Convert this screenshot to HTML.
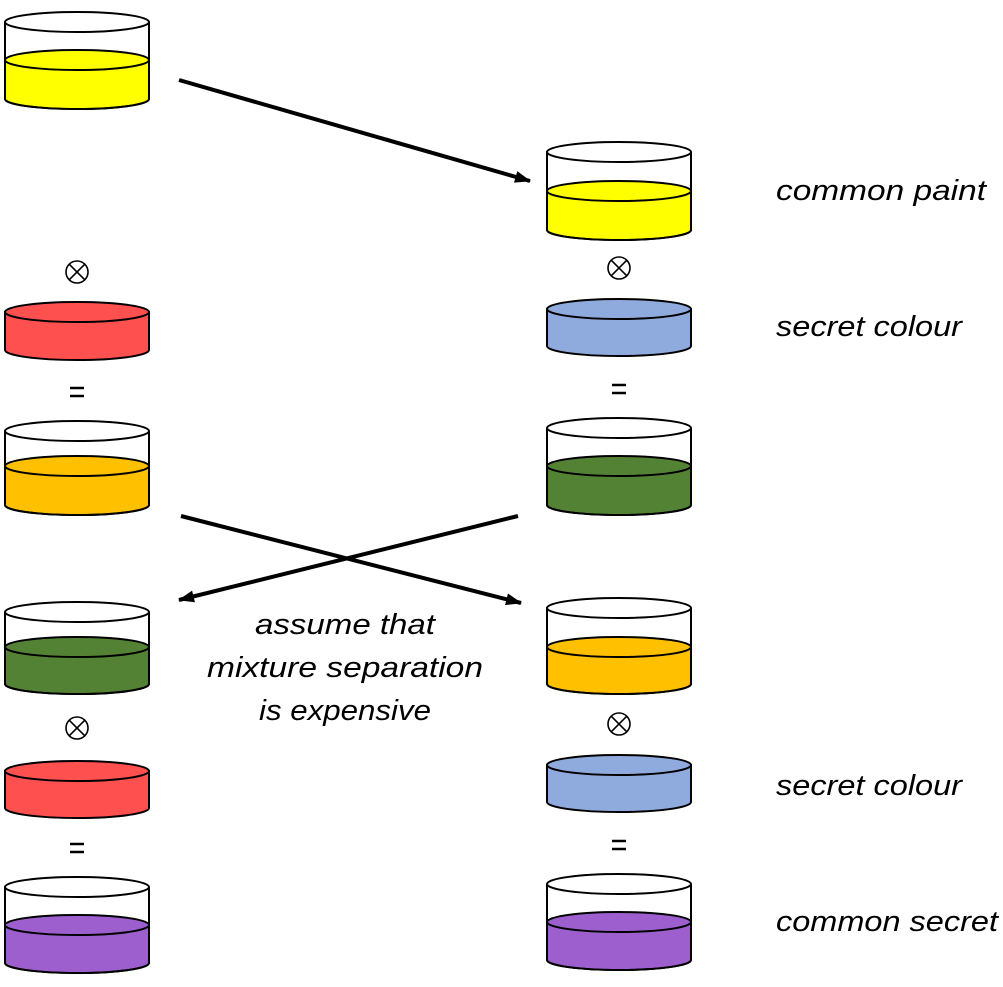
<!DOCTYPE html>
<html><head><meta charset="utf-8"><style>
html,body{margin:0;padding:0;background:#fff}
svg{display:block}
text{font-family:"Liberation Sans",sans-serif;font-style:italic;font-size:29px;fill:#000}
</style></head><body>
<svg width="1003" height="987" viewBox="0 0 1003 987" xmlns="http://www.w3.org/2000/svg">
<defs>
<marker id="ah" markerWidth="16" markerHeight="12" refX="15" refY="6" orient="auto" markerUnits="userSpaceOnUse" viewBox="0 0 16 12"><path d="M0 0L16 6L0 12Z" fill="#000"/></marker>
</defs>
<g stroke="#000" stroke-width="2">
<g transform="translate(77,0)">
<path d="M-72 60V99A72 10 0 0 0 72 99V60Z" fill="#FFFF00"/><ellipse cy="60" rx="72" ry="10" fill="#FFFF00"/>
<path d="M-72 22V99A72 10 0 0 0 72 99V22" fill="none"/><ellipse cy="22" rx="72" ry="10" fill="#fff"/>
<path d="M-72 312V350A72 10 0 0 0 72 350V312Z" fill="#FF5050"/><ellipse cy="312" rx="72" ry="10" fill="#FF5050"/>
<path d="M-72 466V505A72 10 0 0 0 72 505V466Z" fill="#FFC000"/><ellipse cy="466" rx="72" ry="10" fill="#FFC000"/>
<path d="M-72 431V505A72 10 0 0 0 72 505V431" fill="none"/><ellipse cy="431" rx="72" ry="10" fill="#fff"/>
<path d="M-72 647V684A72 10 0 0 0 72 684V647Z" fill="#548235"/><ellipse cy="647" rx="72" ry="10" fill="#548235"/>
<path d="M-72 612V684A72 10 0 0 0 72 684V612" fill="none"/><ellipse cy="612" rx="72" ry="10" fill="#fff"/>
<path d="M-72 771V808A72 10 0 0 0 72 808V771Z" fill="#FF5050"/><ellipse cy="771" rx="72" ry="10" fill="#FF5050"/>
<path d="M-72 925V963A72 10 0 0 0 72 963V925Z" fill="#9E5FCE"/><ellipse cy="925" rx="72" ry="10" fill="#9E5FCE"/>
<path d="M-72 887V963A72 10 0 0 0 72 963V887" fill="none"/><ellipse cy="887" rx="72" ry="10" fill="#fff"/>
</g>
<g transform="translate(619,0)">
<path d="M-72 191V230A72 10 0 0 0 72 230V191Z" fill="#FFFF00"/><ellipse cy="191" rx="72" ry="10" fill="#FFFF00"/>
<path d="M-72 152V230A72 10 0 0 0 72 230V152" fill="none"/><ellipse cy="152" rx="72" ry="10" fill="#fff"/>
<path d="M-72 309V346A72 10 0 0 0 72 346V309Z" fill="#8FAADC"/><ellipse cy="309" rx="72" ry="10" fill="#8FAADC"/>
<path d="M-72 466V505A72 10 0 0 0 72 505V466Z" fill="#548235"/><ellipse cy="466" rx="72" ry="10" fill="#548235"/>
<path d="M-72 428V505A72 10 0 0 0 72 505V428" fill="none"/><ellipse cy="428" rx="72" ry="10" fill="#fff"/>
<path d="M-72 647V684A72 10 0 0 0 72 684V647Z" fill="#FFC000"/><ellipse cy="647" rx="72" ry="10" fill="#FFC000"/>
<path d="M-72 608V684A72 10 0 0 0 72 684V608" fill="none"/><ellipse cy="608" rx="72" ry="10" fill="#fff"/>
<path d="M-72 765V802A72 10 0 0 0 72 802V765Z" fill="#8FAADC"/><ellipse cy="765" rx="72" ry="10" fill="#8FAADC"/>
<path d="M-72 922V960A72 10 0 0 0 72 960V922Z" fill="#9E5FCE"/><ellipse cy="922" rx="72" ry="10" fill="#9E5FCE"/>
<path d="M-72 884V960A72 10 0 0 0 72 960V884" fill="none"/><ellipse cy="884" rx="72" ry="10" fill="#fff"/>
</g>
</g>
<g stroke="#000" stroke-width="1.6" fill="none">
<circle cx="77" cy="272" r="11"/><path d="M69.2 264.2L84.8 279.8M84.8 264.2L69.2 279.8"/>
<circle cx="77" cy="728" r="11"/><path d="M69.2 720.2L84.8 735.8M84.8 720.2L69.2 735.8"/>
<circle cx="619" cy="268" r="11"/><path d="M611.2 260.2L626.8 275.8M626.8 260.2L611.2 275.8"/>
<circle cx="619" cy="724" r="11"/><path d="M611.2 716.2L626.8 731.8M626.8 716.2L611.2 731.8"/>
</g>
<g stroke="#000" stroke-width="2.5">
<path d="M70 388H84M70 396H84"/>
<path d="M70 844H84M70 852H84"/>
<path d="M612 385H626M612 393H626"/>
<path d="M612 841H626M612 849H626"/>
</g>
<g stroke="#000" stroke-width="4" marker-end="url(#ah)">
<line x1="179" y1="80" x2="530" y2="181"/>
<line x1="181" y1="516" x2="521" y2="603"/>
<line x1="518" y1="516" x2="179" y2="600"/>
</g>
<text x="776" y="200" textLength="210" lengthAdjust="spacingAndGlyphs">common paint</text>
<text x="776" y="336" textLength="186" lengthAdjust="spacingAndGlyphs">secret colour</text>
<text x="776" y="795" textLength="186" lengthAdjust="spacingAndGlyphs">secret colour</text>
<text x="776" y="931" textLength="222" lengthAdjust="spacingAndGlyphs">common secret</text>
<text x="345" y="634" text-anchor="middle" textLength="180" lengthAdjust="spacingAndGlyphs">assume that</text>
<text x="345" y="677" text-anchor="middle" textLength="276" lengthAdjust="spacingAndGlyphs">mixture separation</text>
<text x="345" y="720" text-anchor="middle" textLength="172" lengthAdjust="spacingAndGlyphs">is expensive</text>
</svg>
</body></html>
